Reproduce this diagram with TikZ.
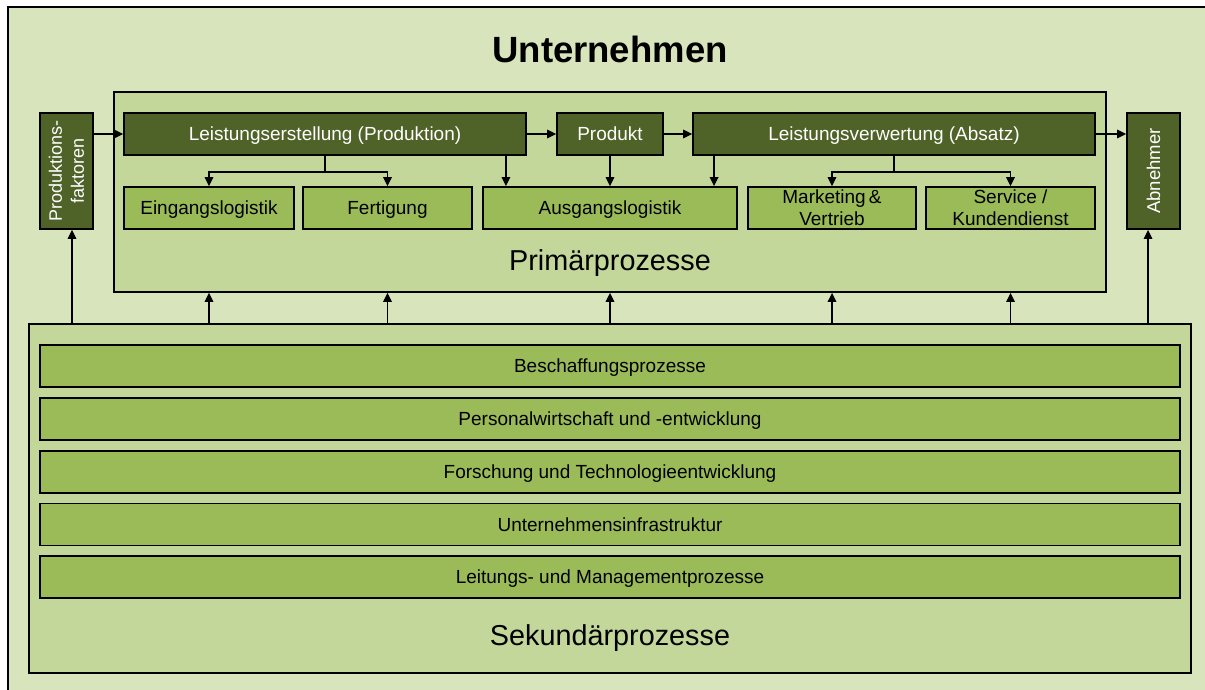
\documentclass[tikz,border=0pt]{standalone}
\usepackage{fontspec}
\setmainfont{Liberation Sans}
\usetikzlibrary{arrows.meta}
\definecolor{pagebg}{HTML}{D8E4BC}
\definecolor{procbg}{HTML}{C4D79B}
\definecolor{darkgreen}{HTML}{4F6228}
\definecolor{midgreen}{HTML}{9BBB59}
\begin{document}
\begin{tikzpicture}[x=1pt,y=-1pt,
  boxtext/.style={font=\fontsize{19}{22}\selectfont},
  darkbox/.style={boxtext, draw=black, line width=1.8pt, fill=darkgreen, text=white, inner sep=0pt, align=center, text height=13.6pt, text depth=0pt},
  lightbox/.style={boxtext, draw=black, line width=1.8pt, fill=midgreen, text=black, inner sep=0pt, align=center, text height=13.6pt, text depth=0pt},
  twolines/.style={text height=, text depth=},
  areabox/.style={draw=black, line width=1.8pt, fill=procbg, inner sep=0pt},
  arealabel/.style={font=\fontsize{28.8}{32}\selectfont, anchor=base},
  arr/.style={line width=1.5pt, -{Triangle[length=9pt,width=8.5pt]}},
  plain/.style={line width=1.5pt}]
  \clip (0,0) rectangle (1205,689);
  \fill[white] (0,0) rectangle (1205,689);
  % outer frame of the enterprise
  \draw[line width=1.8pt, fill=pagebg] (8,7) rectangle (1220,705);
  \node[font=\bfseries\fontsize{36.5}{40}\selectfont, anchor=base] (title) at (610,62.7) {Unternehmen};

  % process areas
  \node[areabox, minimum width=992pt, minimum height=200pt] (prim) at (610,192) {};
  \node[arealabel] (primlabel) at (610,270) {Primärprozesse};
  \node[areabox, minimum width=1162pt, minimum height=349pt] (sek) at (610,498.5) {};
  \node[arealabel] (seklabel) at (610,645.7) {Sekundärprozesse};

  % outer inputs and outputs
  \node[darkbox, minimum width=53pt, minimum height=116pt] (pf) at (66.5,171) {};
  \node[text=white, rotate=90, align=center, font=\fontsize{18}{22}\selectfont] (pftext) at (66.5,171) {Produktions-\\faktoren};
  \node[darkbox, minimum width=53pt, minimum height=116pt] (abn) at (1153.5,171) {};
  \node[text=white, rotate=90, font=\fontsize{18.5}{22}\selectfont] (abntext) at (1153.5,171) {Abnehmer};

  % primary chain
  \node[darkbox, minimum width=402pt, minimum height=42pt] (le) at (325,134) {Leistungserstellung (Produktion)};
  \node[darkbox, minimum width=106pt, minimum height=42pt] (prod) at (610,134) {Produkt};
  \node[darkbox, minimum width=402pt, minimum height=42pt] (lv) at (894,134) {Leistungsverwertung (Absatz)};

  % primary activities
  \node[lightbox, minimum width=170pt, minimum height=42pt] (ein) at (209,208) {Eingangslogistik};
  \node[lightbox, minimum width=169pt, minimum height=42pt] (fert) at (387.5,208) {Fertigung};
  \node[lightbox, minimum width=254pt, minimum height=42pt] (aus) at (610,208) {Ausgangslogistik};
  \node[lightbox, twolines, minimum width=168pt, minimum height=42pt] (mkt) at (832,208) {Marketing\,\&\\Vertrieb};
  \node[lightbox, twolines, minimum width=169pt, minimum height=42pt] (svc) at (1010.5,208) {Service /\\Kundendienst};

  % secondary activities
  \foreach \name/\yy/\txt in {
      beschaffung/366/Beschaffungsprozesse,
      personal/419/Personalwirtschaft und -entwicklung,
      forschung/472/Forschung und Technologieentwicklung,
      infra/524.5/Unternehmensinfrastruktur,
      leitung/577/Leitungs- und Managementprozesse}
    \node[lightbox, minimum width=1140pt, minimum height=42pt] (\name) at (610,\yy) {\txt};

  % flow along the primary chain
  \draw[arr] (pf.east |- le.west) -- (le.west);
  \draw[arr] (le.east) -- (prod.west);
  \draw[arr] (prod.east) -- (lv.west);
  \draw[arr] (lv.east) -- (abn.west |- lv.east);

  % branches to the primary activities
  \draw[plain] (le.south) -- ++(0,16) coordinate (lejoin);
  \draw[arr] (lejoin) -| (ein.north);
  \draw[arr] (lejoin) -| (fert.north);
  \draw[plain] (lv.south) -- ++(0,16) coordinate (lvjoin);
  \draw[arr] (lvjoin) -| (mkt.north);
  \draw[arr] (lvjoin) -| (svc.north);
  \draw[arr] ([xshift=-21pt]le.south east) -- ([xshift=-21pt]le.south east |- aus.north);
  \draw[arr] (prod.south) -- (aus.north);
  \draw[arr] ([xshift=22pt]lv.south west) -- ([xshift=22pt]lv.south west |- aus.north);

  % support from the secondary processes
  \foreach \src in {ein,fert,aus,mkt,svc}
    \draw[arr] (\src.south |- sek.north) -- (\src.south |- prim.south);
  \draw[arr] ([xshift=5.5pt]pf.south |- sek.north) -- ([xshift=5.5pt]pf.south);
  \draw[arr] ([xshift=-5.5pt]abn.south |- sek.north) -- ([xshift=-5.5pt]abn.south);
\end{tikzpicture}
\end{document}
